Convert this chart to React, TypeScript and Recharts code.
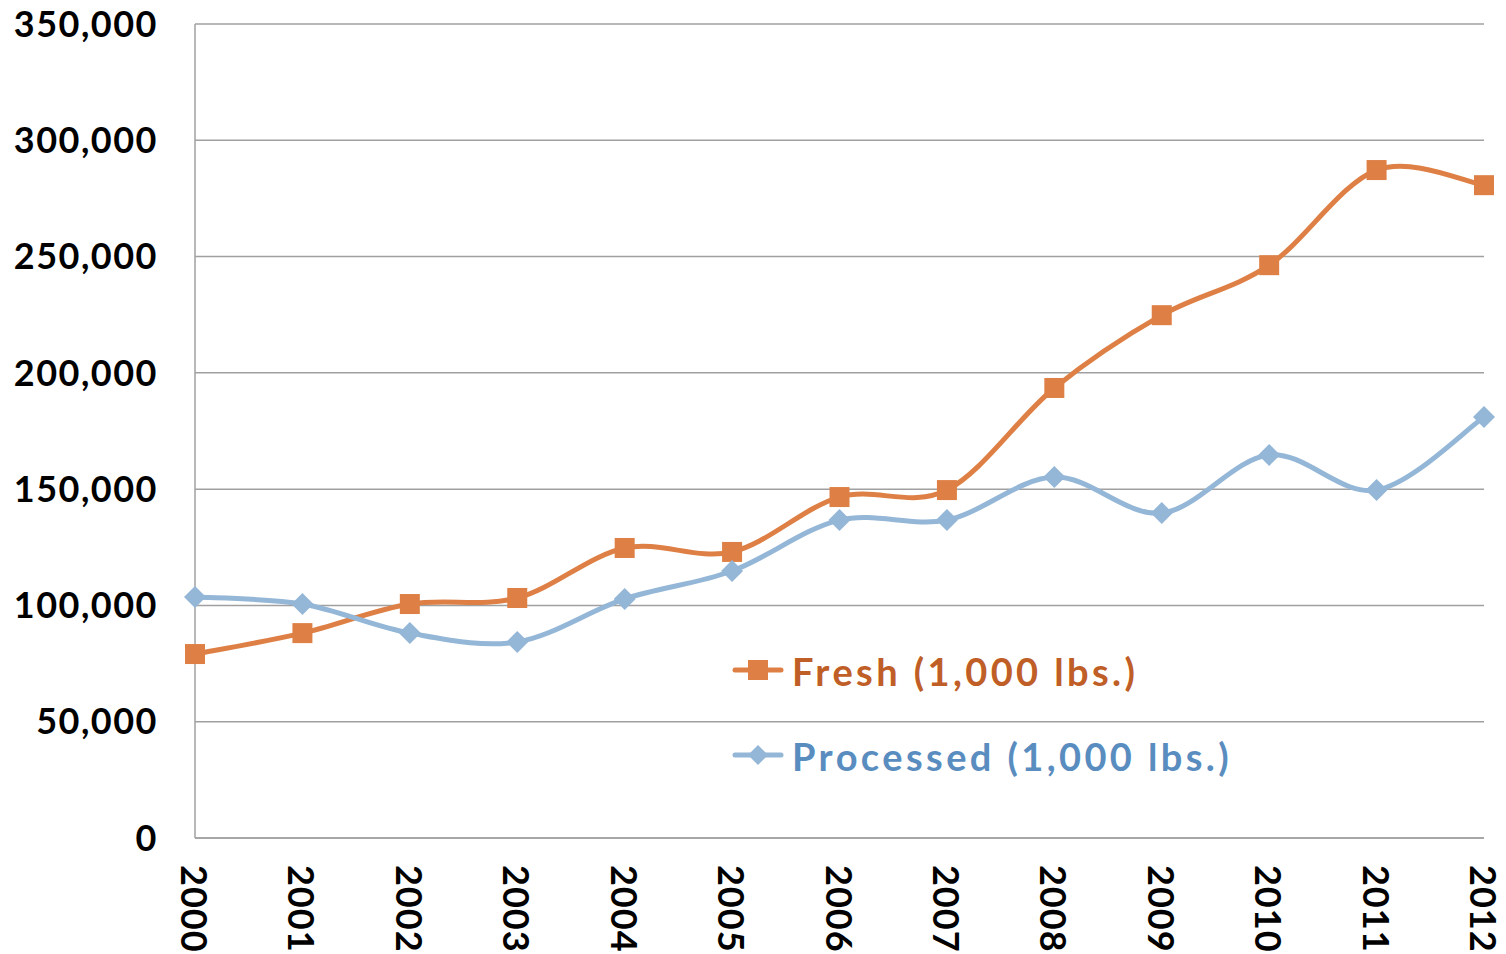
import React from 'react';
import { LineChart, Line, XAxis, YAxis, CartesianGrid } from 'recharts';

const years = ['2000', '2001', '2002', '2003', '2004', '2005', '2006', '2007', '2008', '2009', '2010', '2011', '2012'];
const fresh = [79100, 88100, 100600, 103200, 124700, 123000, 146600, 149600, 193500, 224800, 246300, 287200, 280700];
const processed = [103600, 100600, 88100, 84300, 102800, 114800, 136700, 136700, 155200, 139700, 164700, 149600, 181000];
const yTicks = [0, 50000, 100000, 150000, 200000, 250000, 300000, 350000];
const seriesNames = ['Fresh (1,000 lbs.)', 'Processed (1,000 lbs.)'];

const data = years.map((year, i) => ({ year, fresh: fresh[i], processed: processed[i] }));

const FONT = 'Lato, "DejaVu Sans", sans-serif';
const FRESH_LINE = '#DE8045';
const FRESH_TEXT = '#BF5E26';
const PROC_LINE = '#94B6D7';
const PROC_TEXT = '#5A8DBF';

// excel-ish smoothing: catmull-rom through every point
const smoothCurve: any = (context: any) => {
  let pts: number[][] = [];
  return {
    areaStart() {},
    areaEnd() {},
    lineStart() { pts = []; },
    point(x: number, y: number) { pts.push([+x, +y]); },
    lineEnd() {
      if (!pts.length) return;
      context.moveTo(pts[0][0], pts[0][1]);
      for (let i = 0; i < pts.length - 1; i++) {
        const p0 = pts[i - 1] || pts[i];
        const p1 = pts[i];
        const p2 = pts[i + 1];
        const p3 = pts[i + 2] || pts[i + 1];
        context.bezierCurveTo(
          p1[0] + (p2[0] - p0[0]) / 6, p1[1] + (p2[1] - p0[1]) / 6,
          p2[0] - (p3[0] - p1[0]) / 6, p2[1] - (p3[1] - p1[1]) / 6,
          p2[0], p2[1]
        );
      }
    },
  };
};

const SquareDot = (props: any) => {
  const { cx, cy } = props;
  if (cx == null || cy == null) return null;
  return <rect x={cx - 10} y={cy - 10} width={20} height={20} fill={FRESH_LINE} />;
};

const DiamondDot = (props: any) => {
  const { cx, cy } = props;
  if (cx == null || cy == null) return null;
  return <path d={`M${cx},${cy - 11}L${cx + 11},${cy}L${cx},${cy + 11}L${cx - 11},${cy}Z`} fill={PROC_LINE} />;
};

const YearTick = (props: any) => {
  const { x, y, payload } = props;
  return (
    <text
      x={x}
      y={y}
      transform={`rotate(90, ${x}, ${y})`}
      textAnchor="start"
      dominantBaseline="central"
      fontFamily={FONT}
      fontWeight={700}
      fontSize={36}
      letterSpacing={1}
      fill="#000"
    >
      {payload.value}
    </text>
  );
};

const fmt = (v: number) => v.toLocaleString('en-US');

const legendText = { fontFamily: FONT, fontWeight: 700, fontSize: 38, letterSpacing: 3.4 };

const LegendBox = () => (
  <svg width={560} height={140} style={{ position: 'absolute', left: 731, top: 645 }}>
    <line x1={4} y1={25} x2={50} y2={25} stroke={FRESH_LINE} strokeWidth={5} strokeLinecap="round" />
    <rect x={17} y={15} width={20} height={20} fill={FRESH_LINE} />
    <text x={61} y={26} dominantBaseline="central" fill={FRESH_TEXT} {...legendText}>
      {seriesNames[0]}
    </text>
    <line x1={4} y1={110} x2={50} y2={110} stroke={PROC_LINE} strokeWidth={5} strokeLinecap="round" />
    <path d="M27,100L37,110L27,120L17,110Z" fill={PROC_LINE} />
    <text x={61} y={111} dominantBaseline="central" fill={PROC_TEXT} {...legendText}>
      {seriesNames[1]}
    </text>
  </svg>
);

export default function App() {
  return (
    <div style={{ position: 'absolute', left: 0, top: 0, width: 1506, height: 954 }}>
      <LineChart width={1506} height={954} data={data} margin={{ top: 24, right: 22, bottom: 0, left: 0 }}>
        <CartesianGrid vertical={false} stroke="#A0A0A0" strokeWidth={1.5} />
        <XAxis
          dataKey="year"
          interval={0}
          height={116}
          tickLine={false}
          tickSize={0}
          tickMargin={27}
          tick={<YearTick />}
          axisLine={{ stroke: '#A0A0A0', strokeWidth: 1.5 }}
        />
        <YAxis
          width={195}
          domain={[0, 350000]}
          ticks={yTicks}
          tickFormatter={fmt}
          tickLine={false}
          tickSize={0}
          tickMargin={37}
          axisLine={{ stroke: '#A0A0A0', strokeWidth: 1.5 }}
          tick={{ fill: '#000', fontFamily: FONT, fontWeight: 700, fontSize: 36, letterSpacing: 1.5 }}
        />
        <Line
          dataKey="fresh"
          name={seriesNames[0]}
          type={smoothCurve}
          stroke={FRESH_LINE}
          strokeWidth={5}
          dot={<SquareDot />}
          activeDot={false}
          isAnimationActive={false}
        />
        <Line
          dataKey="processed"
          name={seriesNames[1]}
          type={smoothCurve}
          stroke={PROC_LINE}
          strokeWidth={5}
          dot={<DiamondDot />}
          activeDot={false}
          isAnimationActive={false}
        />
      </LineChart>
      <LegendBox />
    </div>
  );
}
